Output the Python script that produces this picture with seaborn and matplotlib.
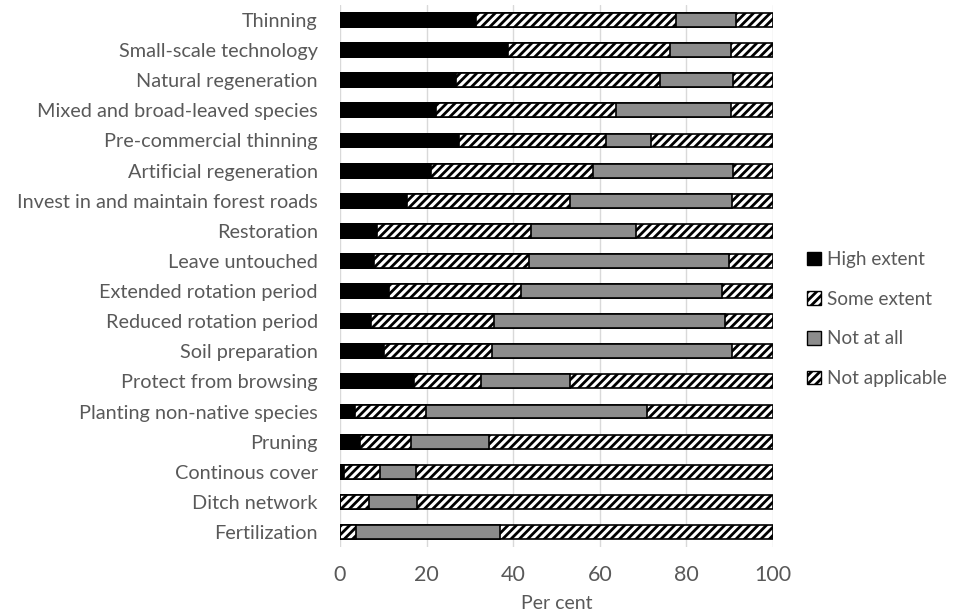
import numpy as np
import pandas as pd
import matplotlib
matplotlib.use("Agg")
import matplotlib.pyplot as plt
from matplotlib.patches import Patch
import seaborn as sns

practices = [
    "Thinning", "Small-scale technology", "Natural regeneration",
    "Mixed and broad-leaved species", "Pre-commercial thinning",
    "Artificial regeneration", "Invest in and maintain forest roads",
    "Restoration", "Leave untouched", "Extended rotation period",
    "Reduced rotation period", "Soil preparation", "Protect from browsing",
    "Planting non-native species", "Pruning", "Continous cover",
    "Ditch network", "Fertilization",
]
# share of respondents (per cent) per answer
high_extent = [31.5, 38.8, 26.9, 22.2, 27.5, 21.0, 15.5, 8.5, 7.9, 11.4,
               7.1, 10.2, 17.2, 3.5, 4.6, 0.9, 0.0, 0.0]
some_extent = [46.0, 37.5, 46.9, 41.6, 33.9, 37.5, 37.7, 35.7, 35.8, 30.3,
               28.4, 24.8, 15.3, 16.3, 11.9, 8.3, 6.8, 3.7]
not_at_all = [13.9, 14.1, 17.0, 26.6, 10.4, 32.3, 37.3, 24.1, 46.1, 46.6,
              53.5, 55.5, 20.6, 51.2, 18.0, 8.3, 10.9, 33.2]
not_applicable = [8.6, 9.6, 9.2, 9.6, 28.2, 9.2, 9.5, 31.7, 10.2, 11.7,
                  11.0, 9.5, 46.9, 29.0, 65.5, 82.5, 82.3, 63.1]

answers = ["High extent", "Some extent", "Not at all", "Not applicable"]

df = pd.DataFrame({
    "practice": practices,
    "High extent": high_extent,
    "Some extent": some_extent,
    "Not at all": not_at_all,
    "Not applicable": not_applicable,
})
cum = df[answers].cumsum(axis=1)

sns.set_theme(style="white")
plt.rcParams["font.family"] = ["Lato", "DejaVu Sans"]
plt.rcParams["hatch.linewidth"] = 2.0
txt = "#595959"

fig = plt.figure(figsize=(9.54, 6.16), dpi=100)
ax = fig.add_axes([0.3564, 0.112, 0.4539, 0.8799])

styles = {
    "High extent": dict(color="black", hatch=None),
    "Some extent": dict(color="white", hatch="////"),
    "Not at all": dict(color="#8c8c8c", hatch=None),
    "Not applicable": dict(color="white", hatch="////"),
}

# draw cumulative totals from the right, each overlapping the previous
for a in reversed(answers):
    st = styles[a]
    n0 = len(ax.patches)
    sns.barplot(x=cum[a], y=df["practice"], order=practices, orient="h",
                color=st["color"], saturation=1,
                edgecolor="black", linewidth=1.2, width=0.46,
                errorbar=None, ax=ax)
    if st["hatch"]:
        for p in ax.patches[n0:]:
            p.set_hatch(st["hatch"])

ax.set_xlim(0, 100)
ax.set_xticks(range(0, 101, 20))
ax.grid(axis="x", color="#d9d9d9", linewidth=1)
ax.set_axisbelow(True)
for s in ax.spines.values():
    s.set_visible(False)
ax.set_ylabel("")
ax.set_xlabel("Per cent", fontsize=14, color=txt, labelpad=7)
ax.tick_params(axis="x", length=0, pad=13, labelsize=15.5, labelcolor=txt)
ax.tick_params(axis="y", length=0, pad=16, labelsize=14.3, labelcolor=txt)

handles = [Patch(facecolor=styles[a]["color"], hatch=styles[a]["hatch"],
                 edgecolor="black", linewidth=1) for a in answers]
fig.legend(handles, answers, loc="center left", bbox_to_anchor=(0.828, 0.482),
           frameon=False, fontsize=13.6, labelcolor=txt, handlelength=0.75,
           handleheight=0.75, handletextpad=0.3, labelspacing=1.2)

fig.savefig("out.png", dpi=100)
